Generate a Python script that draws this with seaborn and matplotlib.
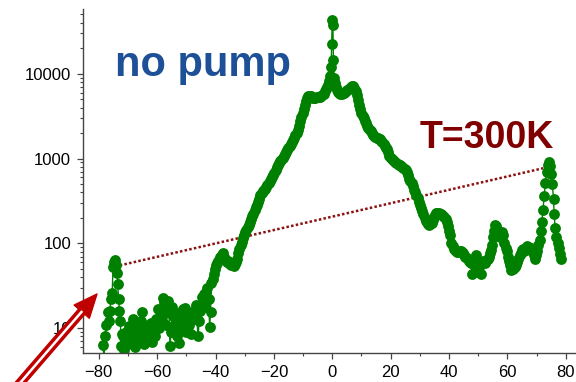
import numpy as np
import pandas as pd
import matplotlib
matplotlib.use("Agg")
import matplotlib.pyplot as plt
import matplotlib.ticker as mticker
from matplotlib.patches import FancyArrowPatch
from matplotlib.lines import Line2D
import seaborn as sns

sns.set_style("ticks")
plt.rcParams["font.family"] = ["Liberation Sans", "DejaVu Sans"]

# ------------------------------------------
# Data (angle vs counts)
# ------------------------------------------
x_noise = [-78.6, -78.2, -77.8, -77.4, -77.0, -76.6, -76.2, -75.8, -75.4, -75.1,
           -74.8, -74.4, -74.1, -73.8, -73.5, -73.2, -72.9, -72.6, -72.3, -72.0,
           -71.6, -71.2, -70.8, -70.4, -70.0, -69.6, -69.2, -68.8, -68.4, -68.0,
           -67.6, -67.2, -66.8, -66.4, -66.0, -65.6, -65.2, -64.8, -64.4, -64.0,
           -63.6, -63.2, -62.8, -62.4, -62.0, -61.6, -61.2, -60.8, -60.4, -60.0,
           -59.6, -59.2, -58.8, -58.4, -58.0, -57.6, -57.2, -56.8, -56.4, -56.0,
           -55.6, -55.2, -54.8, -54.4, -54.0, -53.6, -53.2, -52.8, -52.4, -52.0,
           -51.6, -51.2, -50.8, -50.4, -50.0, -49.6, -49.2, -48.8, -48.4, -48.0,
           -47.6, -47.2, -46.8, -46.4, -46.0, -45.6, -45.2, -44.8, -44.4, -44.0,
           -43.6, -43.2, -42.8, -42.4, -42.0, -41.7]
y_noise = [6.4, 4.5, 8.0, 10.8, 15.5, 12, 16, 22, 26, 52,
           60, 63, 55, 45, 33, 22, 16, 12, 6.2, 8.5,
           8.0, 5.5, 9, 7, 6.5, 10.5, 7.5, 9.5, 13, 8.8,
           6, 9.5, 8, 11, 7, 12, 15.7, 9, 6.5, 10.4,
           8.5, 7, 11, 9, 11.4, 6.8, 10, 8, 13, 12,
           17, 10, 14, 12, 23, 20, 15, 11, 21, 18,
           6.1, 9, 18, 14, 10, 12, 8, 15, 6.7, 10,
           13, 17, 12, 17.5, 9, 14, 11, 12, 8.5, 15,
           13, 16.5, 19, 13, 8, 12, 16, 23.6, 19, 25,
           18, 27, 30, 22, 10.4, 15.7]

x_rise = [-41.4, -41.0, -40.6, -40.2, -39.8, -39.4, -39.0, -38.6, -38.2, -37.8,
          -37.4, -37.0, -36.6, -36.2, -35.8, -35.4, -35.0, -34.6, -34.2, -33.8,
          -33.4, -33.0, -32.6, -32.2, -31.8, -31.4, -31.0, -30.6, -30.2, -29.8,
          -29.4, -29.0, -28.6, -28.2, -27.8, -27.4, -27.0, -26.6, -26.2, -25.8,
          -25.4, -25.0, -24.6, -24.2, -23.8, -23.4, -23.0, -22.6, -22.2, -21.8,
          -21.4, -21.0, -20.6, -20.2, -19.8, -19.4, -19.0, -18.6, -18.2, -17.8,
          -17.4, -17.0, -16.6, -16.2, -15.8, -15.4, -15.0, -14.6, -14.2, -13.8,
          -13.4, -13.0, -12.6, -12.2, -11.8, -11.4, -11.0, -10.6, -10.2, -9.8,
          -9.4, -9.0, -8.6, -8.2]
y_rise = [34, 38, 44, 50, 56, 58, 62, 70, 66, 72,
          76, 70, 65, 60, 62, 58, 57, 55, 58, 54,
          57, 60, 66, 76, 86, 95, 105, 115, 125, 135,
          145, 155, 165, 180, 195, 210, 225, 245, 265, 285,
          310, 330, 370, 395, 410, 425, 440, 460, 490, 520,
          550, 580, 610, 640, 680, 730, 790, 840, 890, 930,
          970, 1010, 1070, 1130, 1200, 1270, 1340, 1410, 1480, 1560,
          1650, 1760, 1880, 2020, 2200, 2450, 2750, 3050, 3400, 3800,
          4300, 4800, 5200, 5450]

x_peak = [-7.8, -7.4, -7.0, -6.6, -6.2, -5.8, -5.4, -5.0, -4.6, -4.2,
          -3.8, -3.4, -3.0, -2.6, -2.2, -1.8, -1.4, -1.0, -0.7, -0.4,
          -0.2, 0.0, 0.2, 0.4, 0.6, 0.8, 1.2, 1.6, 2.0, 2.4,
          2.8, 3.2, 3.6, 4.0, 4.4, 4.8, 5.2, 5.6, 6.0, 6.4,
          6.8, 7.2, 7.6, 8.0, 8.4, 8.8, 9.2, 9.6]
y_peak = [5450, 5400, 5300, 5200, 5150, 5200, 5250, 5250, 5300, 5350,
          5450, 5600, 5800, 6200, 6600, 7000, 7400, 8200, 9500, 12000,
          22400, 43400, 38000, 14600, 9000, 7800, 7000, 6500, 6100, 5900,
          5800, 5800, 5900, 6000, 6150, 6250, 6400, 6600, 6850, 7050,
          7150, 7100, 6800, 6200, 5600, 4900, 4300, 3800]

x_fall = [10.0, 10.4, 10.8, 11.2, 11.6, 12.0, 12.4, 12.8, 13.2, 13.6,
          14.0, 14.4, 14.8, 15.2, 15.6, 16.0, 16.4, 16.8, 17.2, 17.6,
          18.0, 18.4, 18.8, 19.2, 19.6, 20.0, 20.4, 20.8, 21.2, 21.6,
          22.0, 22.4, 22.8, 23.2, 23.6, 24.0, 24.4, 24.8, 25.2, 25.6,
          26.0, 26.4, 26.8, 27.2, 27.6, 28.0, 28.4, 28.8, 29.2, 29.6,
          30.0, 30.4, 30.8, 31.2, 31.6, 32.0, 32.4, 32.8, 33.2, 33.6,
          34.0, 34.4, 34.8, 35.2, 35.6, 36.0, 36.4, 36.8, 37.2, 37.6,
          38.0, 38.4, 38.8, 39.2, 39.6, 40.0, 40.4, 40.8]
y_fall = [3450, 3200, 3000, 2800, 2620, 2450, 2300, 2200, 2100, 2000,
          1920, 1850, 1800, 1770, 1750, 1720, 1680, 1620, 1550, 1480,
          1420, 1350, 1300, 1200, 1080, 1020, 980, 950, 930, 910,
          890, 870, 850, 830, 810, 790, 770, 750, 730, 700,
          640, 580, 540, 510, 470, 430, 400, 375, 340, 310,
          280, 260, 240, 220, 200, 185, 178, 170, 165, 168,
          175, 190, 205, 218, 226, 230, 228, 225, 222, 216,
          210, 205, 195, 180, 160, 140, 125, 100]

x_tail = [41.2, 41.6, 42.0, 42.4, 42.8, 43.2, 43.6, 44.0, 44.4, 44.8,
          45.2, 45.6, 46.0, 46.4, 46.8, 47.2, 47.6, 48.0, 48.4, 48.8,
          49.2, 49.6, 50.0, 50.4, 50.8, 51.2, 51.6, 52.0, 52.4, 52.8,
          53.2, 53.6, 54.0, 54.4, 54.8, 55.0, 55.4, 55.8, 56.2, 56.6,
          57.0, 57.4, 57.8, 58.2, 58.6, 59.0, 59.4, 59.8, 60.2, 60.6,
          61.0, 61.4, 61.8, 62.2, 62.6, 63.0, 63.4, 63.8, 64.2, 64.6,
          65.0, 65.4, 65.8, 66.2, 66.6, 67.0, 67.4, 67.8, 68.2, 68.6,
          69.0, 69.4, 69.8, 70.2, 70.6, 71.0, 71.4, 71.8, 72.2, 72.6,
          73.0, 73.4, 73.8, 74.2, 74.6, 75.0, 75.4, 75.8, 76.0, 76.4,
          76.8, 77.2, 77.6, 78.0, 78.4]
y_tail = [92, 85, 83, 82, 80, 80, 82, 82, 80, 78,
          72, 70, 68, 66, 62, 60, 58, 44, 55, 65,
          72, 62, 58, 52, 44, 58, 62, 60, 58, 62,
          66, 70, 76, 83, 95, 120, 140, 165, 160, 145,
          130, 120, 128, 135, 125, 100, 88, 82, 70, 62,
          55, 48, 50, 56, 52, 55, 60, 66, 72, 78,
          84, 86, 82, 88, 92, 90, 86, 84, 88, 82,
          72, 66, 72, 82, 95, 110, 140, 180, 250, 360,
          520, 700, 850, 900, 820, 650, 500, 330, 220, 150,
          120, 100, 88, 75, 66]

# reference line between the two small peaks
guide_x = [-72.8, 72.3]
guide_y = [55, 770]

df = pd.DataFrame({
    "angle": x_noise + x_rise + x_peak + x_fall + x_tail,
    "counts": y_noise + y_rise + y_peak + y_fall + y_tail,
})

# ------------------------------------------
# Figure
# ------------------------------------------
fig = plt.figure(figsize=(5.76, 3.82), dpi=100)
ax = fig.add_axes([83 / 576, 29 / 382, 493 / 576, 344 / 382])

ax.plot(guide_x, guide_y, color="#8b1010", lw=1.8, dashes=(1, 0.9), zorder=1)

sns.lineplot(data=df, x="angle", y="counts", sort=False, estimator=None,
             marker="o", markersize=7.8, markeredgewidth=0, color="#008000",
             linewidth=1.0, ax=ax, zorder=2)

ax.set_yscale("log")
ax.set_xlim(-85.4, 83.5)
ax.set_ylim(5.1, 58000)
ax.set_xticks(range(-80, 81, 20))
ax.xaxis.set_minor_locator(mticker.MultipleLocator(10))
ax.set_yticks([10, 100, 1000, 10000])
ax.yaxis.set_major_formatter(mticker.FuncFormatter(lambda v, _: f"{v:g}"))
ax.yaxis.set_minor_locator(mticker.LogLocator(base=10, subs=np.arange(2, 10)))
ax.yaxis.set_minor_formatter(mticker.NullFormatter())
ax.set_xlabel("")
ax.set_ylabel("")

sns.despine(ax=ax)
for s in ["left", "bottom"]:
    ax.spines[s].set_color("#444444")
    ax.spines[s].set_linewidth(1.0)
ax.tick_params(which="major", length=4.5, width=0.9, color="#444444",
               labelsize=12, labelcolor="black", pad=4, direction="out")
ax.tick_params(which="minor", length=2.5, width=0.8, color="#444444",
               direction="out")

fig.text(115 / 576, 306 / 382, "no pump", color="#1d5096", fontsize=30,
         fontweight="bold", ha="left", va="baseline")
fig.text(420 / 576, 234 / 382, "T=300K", color="#800000", fontsize=27,
         fontweight="bold", ha="left", va="baseline")

# hollow red arrow pointing at the small peak
tail = (9.6 / 576, -13 / 382)
tip = (97 / 576, 88 / 382)
arrow = FancyArrowPatch(tail, tip, transform=fig.transFigure,
                        arrowstyle="simple,head_length=16.8,head_width=14.5,tail_width=5.8",
                        mutation_scale=1, color="#c00000", shrinkA=0, shrinkB=0,
                        clip_on=False)
fig.add_artist(arrow)
fig.add_artist(Line2D([9.6 / 576, 82.3 / 576], [-13 / 382, 71 / 382],
                      transform=fig.transFigure, color="white", lw=1.8,
                      solid_capstyle="butt"))

plt.savefig("out.png", dpi=100)
